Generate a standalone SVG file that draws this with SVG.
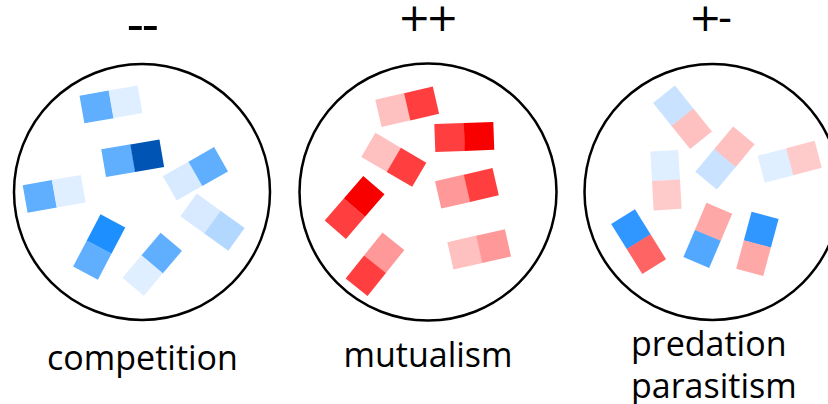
<svg xmlns="http://www.w3.org/2000/svg" width="828" height="404" viewBox="0 0 828 404">
  <defs>
    <style>
      .dish { fill: none; stroke: #000; stroke-width: 2.5; }
      .sign { font-family: "DejaVu Sans", sans-serif; fill: #000; }
      .label { font-family: "Open Sans", "Noto Sans", sans-serif; font-size: 34px; fill: #000; }
      .dk { fill: #0054b4; } .b1 { fill: #1e8fff; } .b2 { fill: #2f97ff; } .b3 { fill: #52a8ff; }
      .b4 { fill: #60afff; } .b5 { fill: #b3d8ff; } .b6 { fill: #c8e2ff; } .b7 { fill: #d8eaff; }
      .b8 { fill: #e0efff; }
      .r1 { fill: #f80000; } .r2 { fill: #ff3f3f; } .r3 { fill: #ff6464; } .r4 { fill: #ff9898; }
      .r5 { fill: #ffa8a8; } .r6 { fill: #ffc0c0; } .r7 { fill: #ffcaca; }
    </style>
    <!-- one domino cell, the pair is built from two of these -->
    <rect id="cellA" x="-29.5" y="-14" width="29.8" height="28"/>
    <rect id="cellB" x="0" y="-14" width="29.5" height="28"/>
  </defs>

  <!-- competition: both partners harmed -->
  <g id="competition">
    <text class="sign" x="126.6" y="42.2" font-size="49" letter-spacing="-2.7">--</text>
    <circle class="dish" cx="142" cy="192" r="128"/>
    <g id="c1" transform="translate(111,104.4) rotate(-10)"><use href="#cellA" class="b4"/><use href="#cellB" class="b8"/></g>
    <g id="c2" transform="translate(132.7,158.2) rotate(-9.7)"><use href="#cellA" class="b4"/><use href="#cellB" class="dk"/></g>
    <g id="c3" transform="translate(54.2,193.8) rotate(-10)"><use href="#cellA" class="b4"/><use href="#cellB" class="b8"/></g>
    <g id="c4" transform="translate(195.4,173.8) rotate(-29.6)"><use href="#cellA" class="b7"/><use href="#cellB" class="b4"/></g>
    <g id="c5" transform="translate(212.5,222.2) rotate(35.7)"><use href="#cellA" class="b7"/><use href="#cellB" class="b5"/></g>
    <g id="c6" transform="translate(99.2,247) rotate(117.7)"><use href="#cellA" class="b1"/><use href="#cellB" class="b4"/></g>
    <g id="c7" transform="translate(152.2,264.3) rotate(130.3)"><use href="#cellA" class="b4"/><use href="#cellB" class="b8"/></g>
    <text class="label" x="142.5" y="370" text-anchor="middle" font-size="35">competition</text>
  </g>

  <!-- mutualism: both partners benefit -->
  <g id="mutualism">
    <text class="sign" x="398" y="31" font-size="39" letter-spacing="-4.7">++</text>
    <circle class="dish" cx="428" cy="192" r="128.5"/>
    <g id="m1" transform="translate(407.2,106.8) rotate(-13)"><use href="#cellA" class="r6"/><use href="#cellB" class="r2"/></g>
    <g id="m2" transform="translate(464.3,136.9) rotate(-2)"><use href="#cellA" class="r2"/><use href="#cellB" class="r1"/></g>
    <g id="m3" transform="translate(393.8,159.8) rotate(30.4)"><use href="#cellA" class="r6"/><use href="#cellB" class="r2"/></g>
    <g id="m4" transform="translate(466.9,188.3) rotate(-12.9)"><use href="#cellA" class="r4"/><use href="#cellB" class="r2"/></g>
    <g id="m5" transform="translate(354.6,207.4) rotate(130.8)"><use href="#cellA" class="r1"/><use href="#cellB" class="r2"/></g>
    <g id="m6" transform="translate(375,264.3) rotate(128.6)"><use href="#cellA" class="r4"/><use href="#cellB" class="r2"/></g>
    <g id="m7" transform="translate(479.2,249.3) rotate(-12.7)"><use href="#cellA" class="r6"/><use href="#cellB" class="r4"/></g>
    <text class="label" x="428" y="367" text-anchor="middle">mutualism</text>
  </g>

  <!-- predation / parasitism: one gains, the other loses -->
  <g id="predation">
    <text class="sign" x="689" y="31" font-size="39" letter-spacing="-3.6">+-</text>
    <circle class="dish" cx="712.5" cy="192" r="128"/>
    <g id="p1" transform="translate(682.5,117.3) rotate(51.2)"><use href="#cellA" class="b6"/><use href="#cellB" class="r6"/></g>
    <g id="p2" transform="translate(725,158) rotate(129.9)"><use href="#cellA" class="r6"/><use href="#cellB" class="b6"/></g>
    <g id="p3" transform="translate(789.7,161.8) rotate(-14.8)"><use href="#cellA" class="b8"/><use href="#cellB" class="r7"/></g>
    <g id="p4" transform="translate(666,180.2) rotate(86.8)"><use href="#cellA" class="b8"/><use href="#cellB" class="r7"/></g>
    <g id="p5" transform="translate(638.6,241.6) rotate(58.2)"><use href="#cellA" class="b2"/><use href="#cellB" class="r3"/></g>
    <g id="p6" transform="translate(707.8,235.4) rotate(113)"><use href="#cellA" class="r5"/><use href="#cellB" class="b3"/></g>
    <g id="p7" transform="translate(757.4,243.8) rotate(105.1)"><use href="#cellA" class="b2"/><use href="#cellB" class="r5"/></g>
    <text class="label" x="631" y="356">predation</text>
    <text class="label" x="631" y="398">parasitism</text>
  </g>
</svg>
